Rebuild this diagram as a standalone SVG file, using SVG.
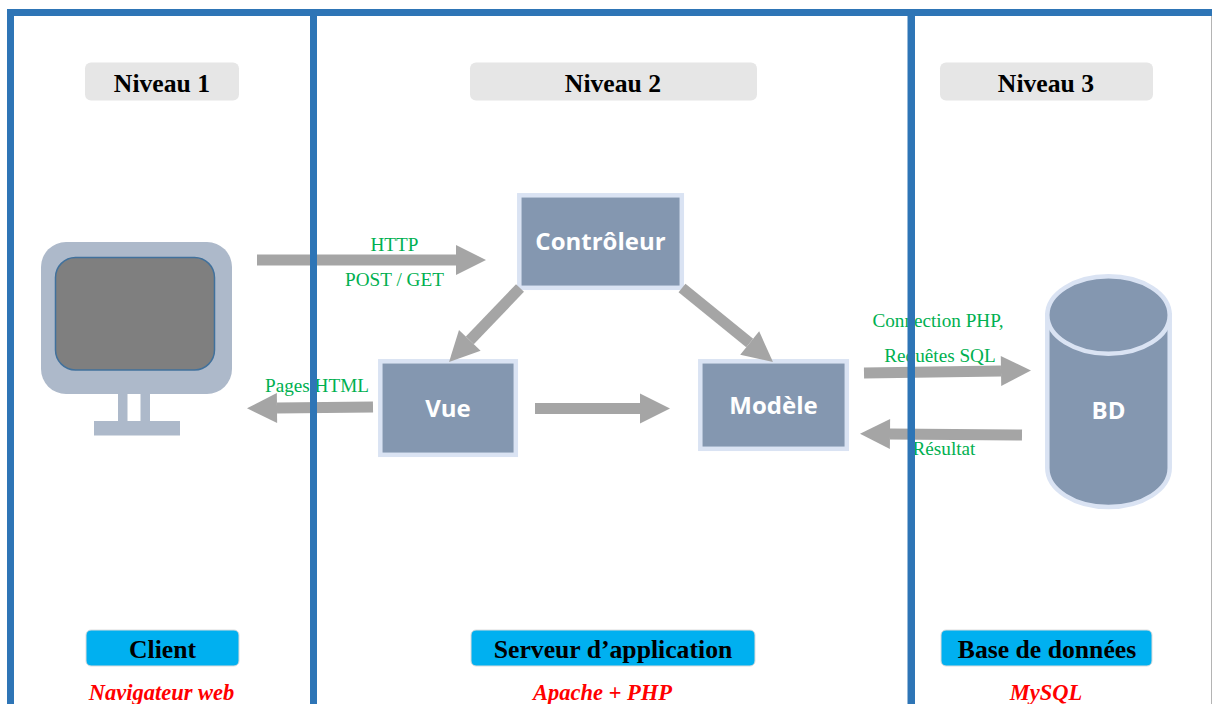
<svg xmlns="http://www.w3.org/2000/svg" width="1212" height="704" viewBox="0 0 1212 704">
<style>
.level{fill:#e6e6e6}
.tier{fill:#00b0f0;stroke:#dcdcdc;stroke-width:1}
.head{font-family:"Liberation Serif","Times New Roman",serif;font-weight:bold;font-size:25.7px;fill:#000;text-anchor:middle}
.sub{font-family:"Liberation Serif","Times New Roman",serif;font-weight:bold;font-style:italic;font-size:22.5px;fill:#ff0000;text-anchor:middle}
.lbl{font-family:"Liberation Serif","Times New Roman",serif;font-size:19.2px;fill:#00b050;text-anchor:middle}
.box{fill:#8497b0;stroke:#dae3f3;stroke-width:4.5}
.nm{font-family:"Open Sans","Noto Sans",sans-serif;font-weight:bold;font-size:24px;fill:#fff;text-anchor:middle}
.ar{stroke:#a5a5a5;stroke-width:11;fill:none;marker-end:url(#ah)}
.bar{fill:#2e75b6}
.mon{fill:#adb9ca}
</style>
<defs>
<marker id="ah" markerUnits="strokeWidth" markerWidth="2.727" markerHeight="2.727" viewBox="0 0 3 3" refX="0" refY="1.5" orient="auto" overflow="visible"><path d="M0 0L3 1.5L0 3Z" fill="#a5a5a5"/></marker>
</defs>
<rect width="1212" height="704" fill="#fff"/>

<g id="niveau-1"><rect class="level" x="85" y="62.500" width="154" height="38" rx="6"/><text class="head" x="162" y="91.500">Niveau 1</text></g>
<g id="niveau-2"><rect class="level" x="470" y="62.500" width="287" height="38" rx="6"/><text class="head" x="613" y="91.500">Niveau 2</text></g>
<g id="niveau-3"><rect class="level" x="940" y="62.500" width="213" height="38" rx="6"/><text class="head" x="1046" y="91.500">Niveau 3</text></g>

<g id="client-pc">
<rect class="mon" x="41" y="242" width="191" height="152" rx="25"/>
<rect x="55.500" y="257.500" width="159" height="112.500" rx="20" fill="#7f7f7f" stroke="#41719c" stroke-width="1.500"/>
<rect class="mon" x="118" y="394" width="9.500" height="28"/>
<rect class="mon" x="140.500" y="394" width="9.500" height="28"/>
<rect class="mon" x="94" y="421" width="86" height="14.500"/>
</g>

<g id="controleur"><rect class="box" x="519.300" y="195.300" width="162.500" height="92.500"/><text class="nm" x="600.500" y="250">Contrôleur</text></g>
<g id="vue"><rect class="box" x="380.300" y="361.300" width="135.500" height="93.500"/><text class="nm" x="448" y="417">Vue</text></g>
<g id="modele"><rect class="box" x="700.300" y="361.300" width="146.500" height="87.500"/><text class="nm" x="773.500" y="414">Modèle</text></g>
<g id="bd">
<path class="box" d="M1047.300 315V468A61.200 39 0 0 0 1169.700 468V315Z"/>
<ellipse class="box" cx="1108.500" cy="315" rx="61.200" ry="38.800"/>
<text class="nm" x="1108.500" y="419">BD</text>
</g>

<g id="connectors">
<line class="ar" x1="257" y1="260" x2="456" y2="260"/>
<line class="ar" x1="373" y1="407" x2="277" y2="408"/>
<line class="ar" x1="520" y1="288" x2="469.800" y2="340.400"/>
<line class="ar" x1="682" y1="288" x2="749.700" y2="343"/>
<line class="ar" x1="535" y1="408.500" x2="640" y2="408.500"/>
<line class="ar" x1="864" y1="373" x2="1001" y2="371"/>
<line class="ar" x1="1022" y1="435" x2="890" y2="434"/>
</g>

<g id="connector-labels">
<text class="lbl" x="394.500" y="251">HTTP</text>
<text class="lbl" x="394.500" y="286">POST / GET</text>
<text class="lbl" x="317" y="392">Pages HTML</text>
<text class="lbl" x="938" y="327">Connection PHP,</text>
<text class="lbl" x="940" y="362">Requêtes SQL</text>
<text class="lbl" x="944" y="455">Résultat</text>
</g>

<g id="client"><rect class="tier" x="86" y="630" width="153" height="36" rx="5"/><text class="head" x="162.500" y="658">Client</text><text class="sub" x="161.500" y="700">Navigateur web</text></g>
<g id="serveur"><rect class="tier" x="471" y="630" width="284" height="36" rx="5"/><text class="head" x="613" y="658">Serveur d’application</text><text class="sub" x="602.500" y="700">Apache + PHP</text></g>
<g id="base"><rect class="tier" x="941" y="630" width="211" height="36" rx="5"/><text class="head" x="1047" y="658">Base de données</text><text class="sub" x="1046" y="700">MySQL</text></g>

<g id="frame">
<rect class="bar" x="7" y="9" width="1205" height="7"/>
<rect class="bar" x="7" y="9" width="7" height="695"/>
<rect class="bar" x="310" y="9" width="7" height="695"/>
<rect class="bar" x="907.500" y="9" width="7.500" height="695"/>
<rect x="1211" y="16" width="1" height="688" fill="#b4b4b4"/>
</g>
</svg>
